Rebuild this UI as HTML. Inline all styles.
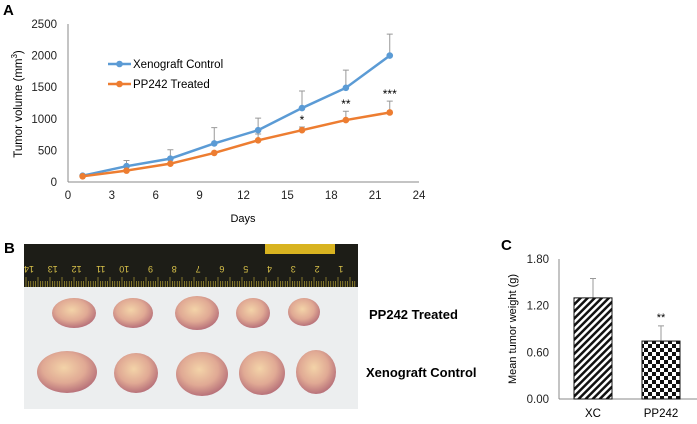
<!DOCTYPE html>
<html><head><meta charset="utf-8"><style>
body{margin:0;background:#fff;width:697px;height:424px;overflow:hidden;position:relative;font-family:"Liberation Sans",sans-serif}
svg{position:absolute;left:0;top:0}
</style></head><body>
<svg width="697" height="424" viewBox="0 0 697 424">
<defs>
<pattern id="diag" width="5" height="5" patternUnits="userSpaceOnUse" patternTransform="rotate(45)"><rect width="5" height="5" fill="#fff"/><rect width="2.5" height="5" fill="#111"/></pattern>
<pattern id="check" width="8" height="8" patternUnits="userSpaceOnUse"><rect width="8" height="8" fill="#fff"/><rect width="4" height="4" fill="#111"/><rect x="4" y="4" width="4" height="4" fill="#111"/></pattern>
<radialGradient id="tum" cx="45%" cy="40%" r="60%"><stop offset="0" stop-color="#f3d3a8"/><stop offset="0.6" stop-color="#e0a994"/><stop offset="1" stop-color="#b8727a"/></radialGradient>
</defs>
<text x="3" y="15" font-weight="bold" font-size="15">A</text>
<g id="chartA"></g>
<text x="4" y="253" font-weight="bold" font-size="15">B</text>
<g>
<rect x="24" y="244" width="334" height="165" fill="#eceeef"/>
<rect x="24" y="244" width="334" height="43" fill="#1d1d17"/>
<rect x="265" y="244" width="70" height="10" fill="#d8b320"/>
<g id="ruler"></g>
<g id="tumors"></g>
</g>
<text x="369" y="319" font-weight="bold" font-size="13">PP242 Treated</text>
<text x="366" y="377" font-weight="bold" font-size="13">Xenograft Control</text>
<text x="501" y="250" font-weight="bold" font-size="15">C</text>
<g id="chartC"></g>
</svg>
<script>
const NS="http://www.w3.org/2000/svg";
function mk(p,t,a,txt){const e=document.createElementNS(NS,t);for(const k in a)e.setAttribute(k,a[k]);if(txt!==undefined)e.textContent=txt;p.appendChild(e);return e;}
// Chart A data
const days=[1,4,7,10,13,16,19,22];
const controlVals=[100,250,370,610,820,1170,1490,2000];
const controlErr=[0,90,140,250,190,270,280,340];
const treatedVals=[90,180,290,460,660,820,980,1100];
const treatedErr=[0,0,0,0,100,50,140,180];
const sigLabels=["","","","","","*","**","***"];
const xTicksA=[0,3,6,9,12,15,18,21,24];
const yTicksA=[0,500,1000,1500,2000,2500];
const A=document.getElementById('chartA');
const xA=d=>68+d*(419-68)/24, yA=v=>182-v*(182-24)/2500;
mk(A,'line',{x1:68,y1:24,x2:68,y2:182,stroke:'#888'});
mk(A,'line',{x1:68,y1:182,x2:419,y2:182,stroke:'#888'});
xTicksA.forEach(t=>{const e=mk(A,'text',{x:xA(t),y:199,'font-size':11.5,'text-anchor':'middle',fill:'#222'},t);

});
yTicksA.forEach(t=>{const e=mk(A,'text',{x:57,y:yA(t)+4,'font-size':11.5,'text-anchor':'end',fill:'#222'},t);

});
let e=mk(A,'text',{x:243,y:222,'font-size':11,'text-anchor':'middle'},'Days');


e=mk(A,'text',{transform:'translate(22,104) rotate(-90)','font-size':11.5,'text-anchor':'middle'});
e.innerHTML='Tumor volume (mm<tspan font-size="8" dy="-5">3</tspan><tspan dy="5">)</tspan>';


function series(vals,err,col,name){
 days.forEach((d,i)=>{if(err[i]>0){const x=xA(d);
  const l=mk(A,'path',{d:`M${x},${yA(vals[i])}V${yA(vals[i]+err[i])}M${x-3},${yA(vals[i]+err[i])}H${x+3}`,stroke:'#999',fill:'none'});
  
  }});
 const p=mk(A,'polyline',{points:days.map((d,i)=>xA(d)+','+yA(vals[i])).join(' '),stroke:col,'stroke-width':2.5,fill:'none'});
 
 
 days.forEach((d,i)=>{const c=mk(A,'circle',{cx:xA(d),cy:yA(vals[i]),r:3.3,fill:col});
  
  });
}
series(controlVals,controlErr,'#5b9bd5','control');
series(treatedVals,treatedErr,'#ed7d31','treated');
days.forEach((d,i)=>{if(sigLabels[i]){const t=mk(A,'text',{x:xA(d),y:yA(treatedVals[i]+treatedErr[i])-3,'font-size':12,'text-anchor':'middle'},sigLabels[i]);
 
 }});
[['#5b9bd5','Xenograft Control',64],['#ed7d31','PP242 Treated',84]].forEach(([c,n,y])=>{
 const g=mk(A,'g',{});
 
 
 mk(g,'line',{x1:108,y1:y,x2:131,y2:y,stroke:c,'stroke-width':2.5});
 mk(g,'circle',{cx:119.5,cy:y,r:3.3,fill:c});
 mk(g,'text',{x:133,y:y+4,'font-size':11.5},n);
});
// ruler
const R=document.getElementById('ruler');
for(let x=26;x<356;x+=2.4){mk(R,'line',{x1:x,y1:287,x2:x,y2:(Math.round((x-26)/2.4)%5==0)?277:281,stroke:'#c9b23a','stroke-width':0.6});}
[14,13,12,11,10,9,8,7,6,5,4,3,2,1].forEach((n,i)=>{mk(R,'text',{x:28+i*23.8,y:272,'font-size':9,fill:'#d9c24a',transform:`rotate(180 ${31+i*23.8} 269)`},n);});
// tumors
const T=document.getElementById('tumors');
[[74,313,22,15],[133,313,20,15],[197,313,22,17],[253,313,17,15],[304,312,16,14],[67,372,30,21],[136,373,22,20],[202,374,26,22],[262,373,23,22],[316,372,20,22]].forEach(([x,y,rx,ry])=>{
 const t=mk(T,'ellipse',{cx:x,cy:y,rx:rx,ry:ry,fill:'url(#tum)'});
 
 });
// Chart C data
const groups=['XC','PP242'];
const weights=[1.30,0.745];
const weightErr=[0.25,0.195];
const sigC=['','**'];
const yTicksC=[0,0.6,1.2,1.8];
const C=document.getElementById('chartC');
const yC=v=>399-v*(399-259)/1.8;
const barX=[574,642], bw=38, fills=['url(#diag)','url(#check)'];
mk(C,'line',{x1:559,y1:259,x2:559,y2:399,stroke:'#888'});
mk(C,'line',{x1:559,y1:399,x2:697,y2:399,stroke:'#888'});
yTicksC.forEach(t=>{const e=mk(C,'text',{x:549,y:yC(t)+4,'font-size':11.5,'text-anchor':'end',fill:'#222'},t.toFixed(2));
 
 });
e=mk(C,'text',{transform:'translate(516,329) rotate(-90)','font-size':11,'text-anchor':'middle'},'Mean tumor weight (g)');


groups.forEach((g,i)=>{
 const x=barX[i],cx=x+bw/2;
 const l=mk(C,'path',{d:`M${cx},${yC(weights[i])}V${yC(weights[i]+weightErr[i])}M${cx-3},${yC(weights[i]+weightErr[i])}H${cx+3}`,stroke:'#999',fill:'none'});
 
 
 const r=mk(C,'rect',{x:x,y:yC(weights[i]),width:bw,height:yC(0)-yC(weights[i]),fill:fills[i],stroke:'#111'});
 
 
 const t=mk(C,'text',{x:cx,y:417,'font-size':11.5,'text-anchor':'middle'},g);
 
 
 if(sigC[i]){const s=mk(C,'text',{x:cx,y:yC(weights[i]+weightErr[i])-5,'font-size':11,'text-anchor':'middle'},sigC[i]);
  
  }
});
</script>
</body></html>
